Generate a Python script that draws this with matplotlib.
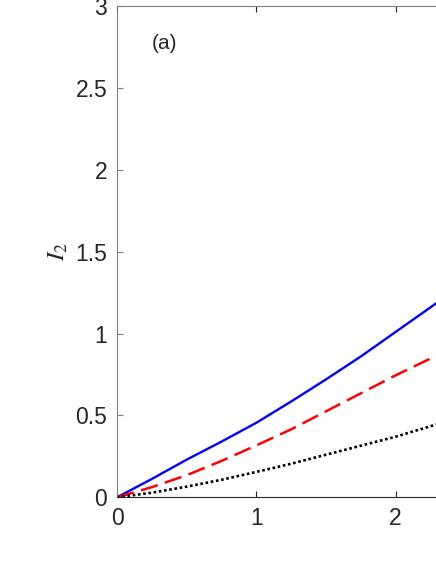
import numpy as np
import matplotlib
matplotlib.use("Agg")
import matplotlib.pyplot as plt

# values (only the part left of x ~ 2.3 is visible)
x_vals = [0, 0.25, 0.5, 0.75, 1.0, 1.25, 1.5, 1.75, 2.0, 2.3]
i2_blue = [0, 0.112, 0.23, 0.34, 0.455, 0.585, 0.72, 0.86, 1.01, 1.19]
i2_red = [0, 0.062, 0.135, 0.222, 0.317, 0.415, 0.525, 0.635, 0.745, 0.868]
i2_black = [0, 0.028, 0.065, 0.107, 0.155, 0.205, 0.26, 0.315, 0.37, 0.447]

x_ticks = [0, 1, 2]
y_ticks = [0, 0.5, 1, 1.5, 2, 2.5, 3]
y_ticklabels = ['0', '0.5', '1', '1.5', '2', '2.5', '3']

plt.rcParams['font.family'] = ['Liberation Sans', 'DejaVu Sans']
plt.rcParams['mathtext.fontset'] = 'stix'

fig = plt.figure(figsize=(4.36, 5.64), dpi=100)
# the axes run past the right edge of the picture (cropped figure)
ax = fig.add_axes([117/436, 66.7/564, 418/436, 491.3/564])

ax.plot(x_vals, i2_blue, color='blue', lw=1.7, ls='-')
ax.plot(x_vals, i2_red, color='red', lw=1.8, ls=(0, (7, 3)))
ax.plot(x_vals, i2_black, color='black', lw=1.9, ls=(0, (1, 1)))

ax.set_xlim(0, 3)
ax.set_ylim(0, 3)
ax.set_xticks(x_ticks)
ax.set_yticks(y_ticks)
ax.set_yticklabels(y_ticklabels)
ax.tick_params(direction='in', length=4, width=0.8, labelsize=16.5,
               labelcolor='#262626', pad=7, top=True, right=True)
ax.tick_params(axis='y', colors='#808080', labelcolor='#262626')
ax.tick_params(axis='x', colors='#262626')
for s in ['left', 'top', 'right']:
    ax.spines[s].set_color('#808080')
ax.spines['bottom'].set_color('#262626')
for s in ax.spines.values():
    s.set_linewidth(0.8)

ax.set_ylabel('$I_2$', fontsize=18, color='#262626', labelpad=4)
ax.text(0.25, 2.77, '(a)', fontsize=15, color='#262626', va='center', ha='left')

fig.savefig('out.png', dpi=100)
